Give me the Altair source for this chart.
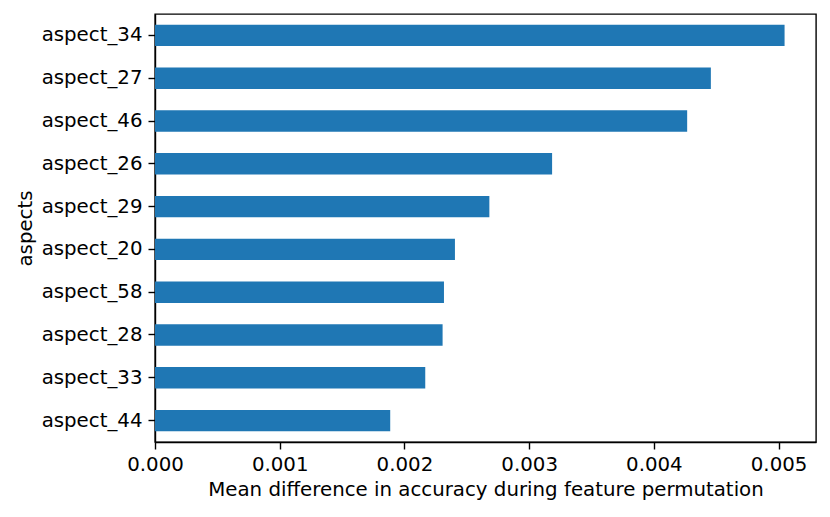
import altair as alt
import pandas as pd

aspects = ["aspect_34", "aspect_27", "aspect_46", "aspect_26", "aspect_29",
           "aspect_20", "aspect_58", "aspect_28", "aspect_33", "aspect_44"]
values = [0.005048, 0.004457, 0.004267, 0.003184, 0.002681,
          0.002405, 0.002317, 0.002306, 0.002167, 0.001886]
x_ticks = [0.000, 0.001, 0.002, 0.003, 0.004, 0.005]

df = pd.DataFrame({"aspect": aspects, "value": values})

FONT = "DejaVu Sans"

chart = alt.Chart(df).mark_bar(color="#1f77b4").encode(
    x=alt.X("value:Q",
            scale=alt.Scale(domain=[0, 0.0053], nice=False, zero=True),
            axis=alt.Axis(title="Mean difference in accuracy during feature permutation",
                          values=x_ticks, format=".3f", grid=False, labelFlush=False,
                          tickSize=7, labelPadding=5, titlePadding=6)),
    y=alt.Y("aspect:N", sort=aspects,
            scale=alt.Scale(paddingInner=0.5, paddingOuter=0.25),
            axis=alt.Axis(title="aspects", grid=False, tickSize=7,
                          labelPadding=6, titlePadding=6)),
).properties(
    width=661, height=428,
    autosize=alt.AutoSizeParams(type="none"),
    padding={"left": 147, "top": 6, "right": 6, "bottom": 70},
).configure_view(
    stroke="black", strokeWidth=1.4
).configure_axis(
    labelFont=FONT, titleFont=FONT, labelFontSize=19.8, titleFontSize=19.8,
    labelColor="black", titleColor="black", titleFontWeight="normal",
    domainColor="black", domainWidth=1.4, tickColor="black", tickWidth=1.4,
)

chart.save("out.html", embed_options={"renderer": "svg", "actions": False})
